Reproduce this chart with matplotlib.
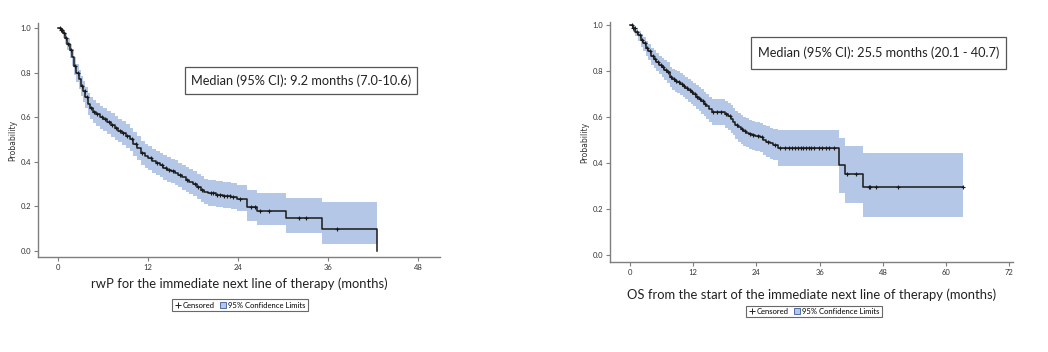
import numpy as np
import matplotlib
matplotlib.use("Agg")
import matplotlib.pyplot as plt
from matplotlib.lines import Line2D
from matplotlib.patches import Patch, Rectangle

# ---------------- data: left panel (rwP) ----------------
rwp_time = [0.0, 0.3, 0.6, 0.9, 1.2, 1.5, 1.8, 2.1, 2.4, 2.7, 3.0, 3.3, 3.6, 3.9, 4.2, 4.6,
            5.0, 5.5, 6.0, 6.5, 7.0, 7.5, 8.0, 8.5, 9.0, 9.5, 10.0, 10.5, 11.0, 11.5, 12.0,
            12.5, 13.0, 13.5, 14.0, 14.5, 15.0, 15.5, 16.0, 16.5, 17.0, 17.5, 18.0, 18.5,
            19.0, 19.5, 20.0, 21.0, 22.0, 23.0, 23.8, 25.2, 26.5, 30.3, 35.2, 42.5]
rwp_surv = [1.000, 0.990, 0.975, 0.955, 0.930, 0.900, 0.870, 0.830, 0.800, 0.770, 0.740,
            0.715, 0.690, 0.660, 0.640, 0.625, 0.612, 0.600, 0.590, 0.578, 0.565, 0.552,
            0.540, 0.528, 0.515, 0.500, 0.480, 0.460, 0.440, 0.425, 0.415, 0.405, 0.395,
            0.385, 0.373, 0.365, 0.358, 0.350, 0.340, 0.330, 0.320, 0.310, 0.300, 0.288,
            0.275, 0.265, 0.258, 0.252, 0.248, 0.243, 0.235, 0.198, 0.181, 0.147, 0.097, 0.000]
rwp_lower = [1.000, 0.975, 0.955, 0.930, 0.900, 0.865, 0.830, 0.790, 0.758, 0.725, 0.695,
             0.668, 0.642, 0.610, 0.590, 0.575, 0.561, 0.549, 0.538, 0.526, 0.513, 0.499,
             0.487, 0.475, 0.462, 0.447, 0.427, 0.407, 0.387, 0.372, 0.361, 0.351, 0.341,
             0.331, 0.319, 0.310, 0.303, 0.295, 0.285, 0.275, 0.265, 0.255, 0.245, 0.233,
             0.220, 0.210, 0.203, 0.197, 0.192, 0.187, 0.178, 0.136, 0.117, 0.082, 0.031, 0.031]
rwp_upper = [1.000, 1.000, 0.990, 0.975, 0.955, 0.930, 0.905, 0.868, 0.840, 0.812, 0.785,
             0.760, 0.737, 0.708, 0.690, 0.675, 0.662, 0.650, 0.640, 0.629, 0.617, 0.604,
             0.593, 0.581, 0.568, 0.553, 0.534, 0.514, 0.494, 0.479, 0.469, 0.459, 0.449,
             0.440, 0.429, 0.421, 0.414, 0.406, 0.396, 0.387, 0.377, 0.367, 0.358, 0.346,
             0.334, 0.324, 0.318, 0.312, 0.307, 0.303, 0.296, 0.275, 0.259, 0.239, 0.221, 0.221]
rwp_censor = [0.2, 0.4, 0.5, 0.7, 1.0, 1.3, 1.7, 2.2, 2.6, 3.1, 3.5, 3.8, 4.4, 4.8, 5.2, 5.8,
              6.2, 6.7, 7.2, 7.7, 8.2, 8.7, 9.2, 9.8, 10.3, 11.2, 12.3, 13.2, 13.8, 14.3,
              14.8, 15.3, 16.2, 17.2, 18.2, 18.7, 19.2, 20.3, 20.7, 21.2, 21.6, 22.1, 22.5,
              22.9, 23.3, 24.3, 25.7, 26.3, 26.9, 28.1, 32.1, 33.0, 37.2]

# ---------------- data: right panel (OS) ----------------
os_time = [0.0, 0.5, 1.0, 1.5, 2.0, 2.5, 3.0, 3.5, 4.0, 4.5, 5.0, 5.5, 6.0, 6.5, 7.0, 7.5,
           8.0, 8.5, 9.0, 9.5, 10.0, 10.5, 11.0, 11.5, 12.0, 12.5, 13.0, 13.5, 14.0, 14.5,
           15.0, 15.5, 18.0, 18.6, 19.2, 19.6, 20.0, 20.5, 21.0, 21.5, 22.0, 22.5, 23.1,
           23.8, 24.6, 25.3, 25.9, 26.6, 27.2, 28.1, 39.7, 40.8, 44.3, 63.2]
os_surv = [1.000, 0.985, 0.970, 0.955, 0.935, 0.920, 0.900, 0.885, 0.865, 0.853, 0.840,
           0.828, 0.818, 0.805, 0.795, 0.775, 0.765, 0.758, 0.752, 0.745, 0.735, 0.728,
           0.718, 0.708, 0.698, 0.688, 0.678, 0.668, 0.658, 0.648, 0.635, 0.622, 0.612,
           0.605, 0.592, 0.580, 0.567, 0.555, 0.546, 0.538, 0.532, 0.526, 0.520, 0.516,
           0.512, 0.500, 0.492, 0.486, 0.480, 0.466, 0.391, 0.352, 0.297, 0.297]
os_lower = [1.000, 0.970, 0.950, 0.930, 0.905, 0.888, 0.865, 0.848, 0.827, 0.813, 0.799,
            0.786, 0.775, 0.761, 0.750, 0.729, 0.718, 0.710, 0.703, 0.696, 0.685, 0.677,
            0.667, 0.657, 0.646, 0.635, 0.625, 0.614, 0.603, 0.593, 0.580, 0.566, 0.553,
            0.545, 0.532, 0.520, 0.506, 0.493, 0.484, 0.475, 0.469, 0.462, 0.456, 0.451,
            0.446, 0.434, 0.425, 0.418, 0.412, 0.389, 0.272, 0.227, 0.167, 0.167]
os_upper = [1.000, 0.995, 0.985, 0.975, 0.960, 0.948, 0.930, 0.917, 0.900, 0.890, 0.878,
            0.867, 0.858, 0.846, 0.837, 0.818, 0.809, 0.803, 0.798, 0.791, 0.782, 0.776,
            0.766, 0.757, 0.748, 0.739, 0.729, 0.720, 0.710, 0.701, 0.689, 0.678, 0.670,
            0.663, 0.651, 0.640, 0.627, 0.616, 0.608, 0.600, 0.595, 0.589, 0.584, 0.580,
            0.576, 0.566, 0.559, 0.553, 0.548, 0.545, 0.507, 0.474, 0.445, 0.445]
os_censor = [0.3, 0.6, 0.9, 1.3, 1.8, 2.3, 2.8, 3.3, 3.8, 4.3, 4.8, 5.3, 5.8, 6.3, 6.8, 7.3,
             7.8, 8.3, 8.8, 9.3, 9.8, 10.3, 10.8, 11.3, 11.8, 12.3, 12.8, 13.3, 13.8, 14.3,
             15.8, 16.5, 17.2, 18.3, 19.0, 20.3, 21.2, 21.8, 22.7, 23.4, 24.2, 25.0, 26.2,
             27.5, 28.5, 29.4, 30.1, 30.7, 31.4, 31.8, 32.4, 32.9, 33.5, 33.9, 34.3, 34.9,
             35.8, 36.5, 37.2, 37.8, 38.8, 41.1, 42.9, 45.4, 45.6, 46.7, 50.8, 63.2]

x_ticks_left = [0, 12, 24, 36, 48]
x_ticks_right = [0, 12, 24, 36, 48, 60, 72]
y_ticks = [0.0, 0.2, 0.4, 0.6, 0.8, 1.0]
xlabel_left = "rwP for the immediate next line of therapy (months)"
xlabel_right = "OS from the start of the immediate next line of therapy (months)"
note_left = "Median (95% CI): 9.2 months (7.0-10.6)"
note_right = "Median (95% CI): 25.5 months (20.1 - 40.7)"

BAND = "#b4c7e7"
AXC = "#7f7f7f"
FONT = "Lato"

fig = plt.figure(figsize=(10.48, 3.52), dpi=100)


def km_panel(rect, t, s, lo, hi, cens, xlim, ylim, xticks, xlabel, note, note_box,
             leg_center, xlabpad):
    ax = fig.add_axes(rect)
    t = np.asarray(t)
    s = np.asarray(s)
    ax.fill_between(t, lo, hi, step="post", color=BAND, lw=0, zorder=1)
    ax.step(t, s, where="post", color="#1a1a1a", lw=1.1, zorder=3)
    idx = np.searchsorted(t, cens, side="right") - 1
    ax.plot(cens, s[idx], ls="none", marker="+", ms=3.5, mew=0.8, color="#1a1a1a", zorder=4)
    ax.set_xlim(*xlim)
    ax.set_ylim(*ylim)
    ax.set_xticks(xticks)
    ax.set_yticks(y_ticks)
    ax.set_yticklabels([f"{v:.1f}" for v in y_ticks])
    for sp in ("top", "right"):
        ax.spines[sp].set_visible(False)
    for sp in ("left", "bottom"):
        ax.spines[sp].set_color(AXC)
        ax.spines[sp].set_linewidth(1.0)
    ax.tick_params(axis="both", colors="#333333", labelsize=5.5, length=3, width=0.8,
                   direction="out", pad=2)
    ax.tick_params(axis="both", color=AXC)
    for lab in ax.get_xticklabels() + ax.get_yticklabels():
        lab.set_fontfamily(FONT)
    ax.set_xlabel(xlabel, fontsize=9.4, family=FONT, color="#222222", labelpad=xlabpad)
    ax.set_ylabel("Probability", fontsize=5.5, family="DejaVu Sans", color="#333333", labelpad=2)
    x0, y0, x1, y1 = note_box
    ax.add_patch(Rectangle((x0, y0), x1 - x0, y1 - y0, transform=ax.transAxes,
                           facecolor="white", edgecolor="#555555", lw=0.9, zorder=5))
    ax.text((x0 + x1) / 2, (y0 + y1) / 2, note, transform=ax.transAxes, ha="center",
            va="center", fontsize=9.2, family=FONT, color="#222222", zorder=6)
    handles = [Line2D([], [], ls="none", marker="+", ms=4, mew=0.7, color="#222222"),
               Patch(facecolor=BAND, edgecolor="#3b5998", lw=0.6)]
    leg = fig.legend(handles, ["Censored", "95% Confidence Limits"], loc="center",
                     bbox_to_anchor=leg_center, bbox_transform=fig.transFigure, ncol=2,
                     frameon=True, fancybox=False, borderpad=0.3,
                     handlelength=0.8, handletextpad=0.3, columnspacing=0.6,
                     handleheight=0.8, prop={"family": FONT, "size": 5.5})
    leg.get_frame().set_edgecolor("#444444")
    leg.get_frame().set_linewidth(0.8)
    return ax


W, H = 1048, 352
km_panel([38 / W, 1 - 257 / H, 402 / W, 234 / H], rwp_time, rwp_surv, rwp_lower, rwp_upper,
         rwp_censor, (-2.7, 50.9), (-0.027, 1.022), x_ticks_left, xlabel_left, note_left,
         (0.366, 0.697, 0.943, 0.812), (240 / W, 1 - 305 / H), 5)
km_panel([610 / W, 1 - 262 / H, 403 / W, 240 / H], os_time, os_surv, os_lower, os_upper,
         os_censor, (-3.8, 72.7), (-0.030, 1.013), x_ticks_right, xlabel_right, note_right,
         (0.350, 0.804, 0.983, 0.9375), (814 / W, 1 - 311.5 / H), 9)

fig.savefig("out.png", dpi=100)
